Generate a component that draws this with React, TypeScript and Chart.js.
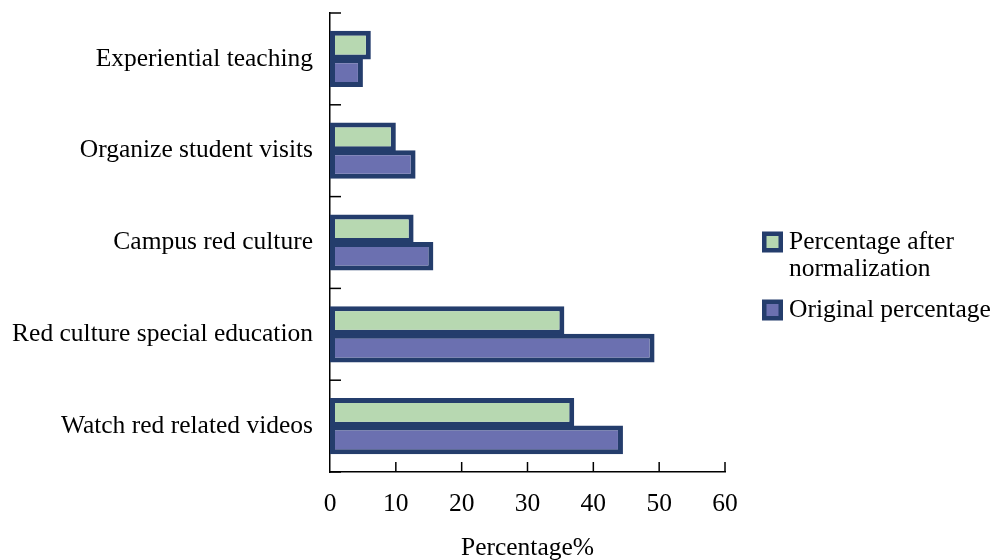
import React, { useEffect, useRef } from "react";
import { Chart, registerables } from "chart.js";
Chart.register(...registerables);

const categories = [
  "Experiential teaching",
  "Organize student visits",
  "Campus red culture",
  "Red culture special education",
  "Watch red related videos",
];
const normalizedValues = [6.2, 10.0, 12.7, 35.6, 37.1];
const originalValues = [5.0, 13.0, 15.7, 49.3, 44.5];
const seriesNames = ["Percentage after normalization", "Original percentage"];
const legendLines = [["Percentage after", "normalization"], ["Original percentage"]];
const xMin = 0;
const xMax = 60;
const xStep = 10;
const axisTitle = "Percentage%";

const FONT = "'Liberation Serif', 'Times New Roman', serif";
const FS = 25.5;
const GREEN = "#B7D8B1";
const PURPLE = "#6B70B0";
const BORDER = "#243D6C";

const decorPlugin = {
  id: "decor",
  afterDraw(chart: any) {
    const ctx = chart.ctx;
    const xs = chart.scales.x;
    const ys = chart.scales.y;
    const area = chart.chartArea;
    ctx.save();
    ctx.strokeStyle = "#000";
    ctx.lineWidth = 1.5;
    for (let i = 0; i <= categories.length; i++) {
      const y = ys.getPixelForValue(i - 0.5);
      ctx.beginPath();
      ctx.moveTo(area.left, y);
      ctx.lineTo(area.left + 11, y);
      ctx.stroke();
    }
    for (let v = xMin + xStep; v <= xMax; v += xStep) {
      const x = xs.getPixelForValue(v);
      ctx.beginPath();
      ctx.moveTo(x, area.bottom);
      ctx.lineTo(x, area.bottom - 10);
      ctx.stroke();
    }
    const ds = chart.data.datasets;
    const boxX = 762;
    const textX = 789;
    const rows = [242, 310];
    ctx.font = `${FS}px ${FONT}`;
    ctx.textBaseline = "middle";
    ctx.textAlign = "left";
    ds.forEach((d: any, i: number) => {
      const lines = legendLines[i];
      const cy = rows[i];
      ctx.fillStyle = d.borderColor;
      ctx.fillRect(boxX, cy - 10.5, 21, 21);
      ctx.fillStyle = d.backgroundColor;
      ctx.fillRect(boxX + 4.5, cy - 6, 12, 12);
      ctx.fillStyle = "#000";
      lines.forEach((ln: string, j: number) => {
        ctx.fillText(ln, textX, cy + j * 27);
      });
    });
    ctx.restore();
  },
};

export default function App() {
  const ref = useRef<HTMLCanvasElement | null>(null);
  useEffect(() => {
    if (!ref.current) return;
    const mk = (label: string, data: number[], bg: string) => ({
      label,
      data,
      backgroundColor: bg,
      borderColor: BORDER,
      borderWidth: 5,
      borderSkipped: false,
      categoryPercentage: 0.6,
      barPercentage: 1.04,
    });
    const chart = new Chart(ref.current, {
      type: "bar",
      data: {
        labels: categories,
        datasets: [mk(seriesNames[0], normalizedValues, GREEN), mk(seriesNames[1], originalValues, PURPLE)],
      },
      options: {
        indexAxis: "y",
        animation: false,
        responsive: true,
        maintainAspectRatio: false,
        layout: { padding: { left: 0, right: 270, top: 13, bottom: 0 } },
        plugins: {
          legend: { display: false },
          title: { display: false },
          tooltip: { enabled: false },
        },
        scales: {
          x: {
            min: xMin,
            max: xMax,
            ticks: {
              stepSize: xStep,
              color: "#000",
              font: { family: FONT, size: FS },
              padding: 17,
              maxRotation: 0,
            },
            grid: { display: false, drawTicks: false },
            border: { display: true, color: "#000", width: 1.5 },
            title: {
              display: true,
              text: axisTitle,
              color: "#000",
              font: { family: FONT, size: FS },
              padding: { top: 0, bottom: -4 },
            },
            afterFit(scale: any) {
              scale.height = 88;
              scale.paddingLeft = 0;
              scale.paddingRight = 0;
            },
          },
          y: {
            ticks: {
              color: "#000",
              font: { family: FONT, size: FS },
              padding: 17,
            },
            grid: { display: false, drawTicks: false },
            border: { display: true, color: "#000", width: 1.5 },
            afterFit(scale: any) {
              scale.width = 330;
              scale.paddingTop = 0;
              scale.paddingBottom = 0;
            },
          },
        },
      },
      plugins: [decorPlugin],
    });
    return () => chart.destroy();
  }, []);
  return (
    <div style={{ position: "fixed", left: 0, top: 0, width: 995, height: 560, background: "#fff" }}>
      <canvas ref={ref} />
    </div>
  );
}
